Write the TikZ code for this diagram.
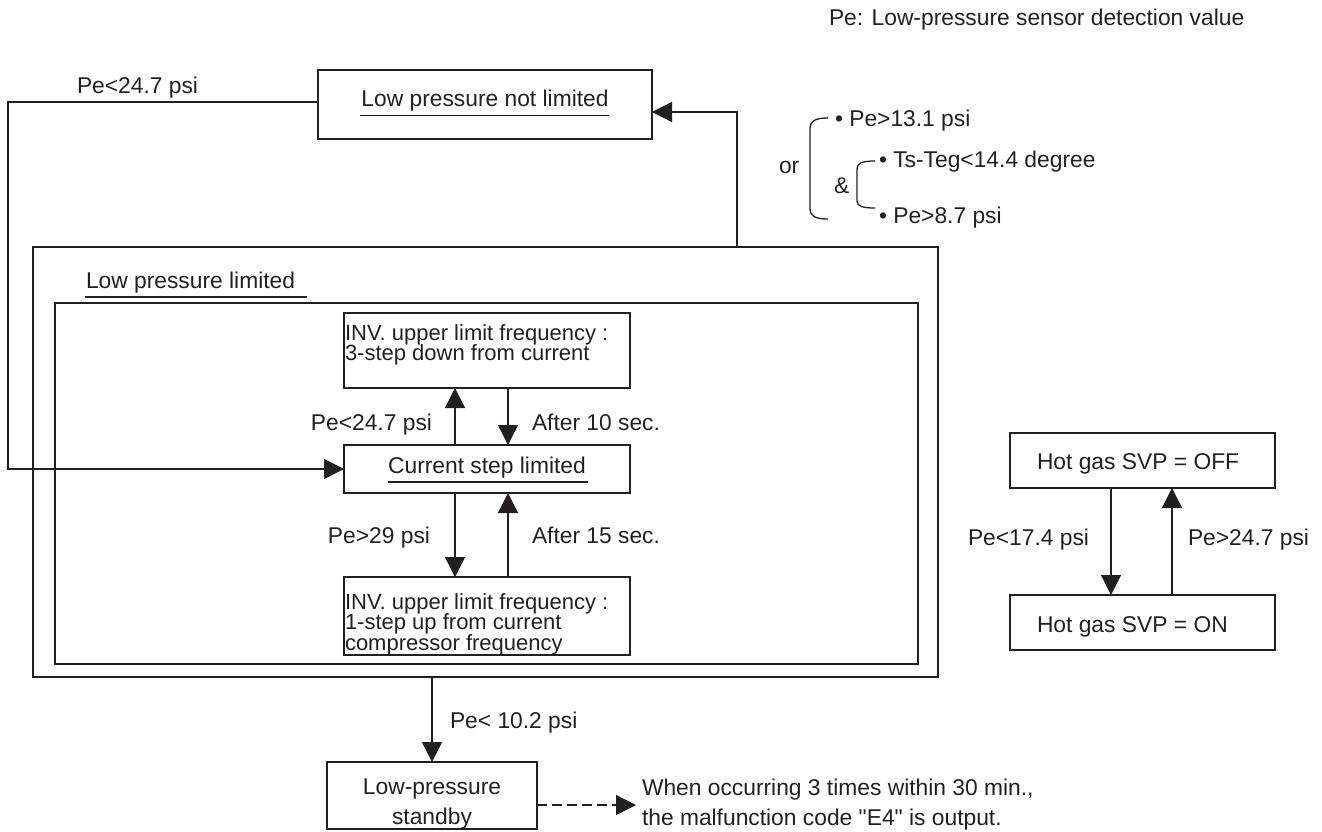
\documentclass[tikz,border=0pt]{standalone}
\usepackage{fontspec}
\setmainfont{Liberation Sans}
\usetikzlibrary{arrows.meta}
\definecolor{ink}{RGB}{35,31,32}
\newcommand\myfontA{\fontsize{22.8}{19.5}\selectfont\lineskiplimit=-50pt\relax\lineskip=0pt\relax}
\newcommand\myfontB{\fontsize{22.8}{30}\selectfont\lineskiplimit=-50pt\relax\lineskip=0pt\relax}
\newcommand\myfontC{\fontsize{22}{20.6}\selectfont\lineskiplimit=-50pt\relax\lineskip=0pt\relax}
\begin{document}
\begin{tikzpicture}[x=1pt,y=-1pt,
  box/.style={draw=ink, line width=1.4pt, inner sep=0pt, outer sep=0pt, rectangle},
  txt/.style={text=ink, inner sep=0pt, outer sep=0pt, font=\myfontA},
  wide/.style={txt, font=\myfontB},
  tight/.style={txt, font=\myfontC},
  ln/.style={draw=ink, line width=1.3pt},
  arr/.style={ln, -{Triangle[length=20pt,width=20pt]}},
  dasharr/.style={arr, dash pattern=on 10pt off 5pt}]
\useasboundingbox (0,0) rectangle (1322,831);

% note
\node[txt, anchor=base west] (note) at (829,25) {Pe: Low-pressure sensor detection value};

% boxes
\node[box, minimum width=334, minimum height=69] (nl) at (485,104.5) {};
\node[box, minimum width=905, minimum height=430] (outer) at (485.5,462) {};
\node[box, minimum width=863, minimum height=361] (inner) at (486.5,483.5) {};
\node[box, minimum width=286, minimum height=75] (b1) at (487,350.5) {};
\node[box, minimum width=286, minimum height=48] (cur) at (487,469) {};
\node[box, minimum width=286, minimum height=78] (b2) at (487,616) {};
\node[box, minimum width=210, minimum height=67] (lp) at (432,795.5) {};
\node[box, minimum width=265, minimum height=55] (off) at (1142.5,460.5) {};
\node[box, minimum width=265, minimum height=55] (on) at (1142.5,622.5) {};

% box texts
\node[txt, anchor=base] (nlt) at (485,106) {Low pressure not limited};
\draw[ln] ([shift={(-1,9.5)}]nlt.base west) -- ([shift={(0,9.5)}]nlt.base east);
\node[txt, anchor=base west] (lplim) at (86,288) {Low pressure limited};
\draw[ln] ([shift={(-1,9)}]lplim.base west) -- ([shift={(12,9)}]lplim.base east);
\node[txt, anchor=base] (curt) at (487,473) {Current step limited};
\draw[ln] ([shift={(0,9)}]curt.base west) -- ([shift={(2,9)}]curt.base east);
\node[tight, anchor=north west, align=left] (b1t) at (345,324.2) {INV. upper limit frequency :\\3-step down from current};
\node[tight, anchor=north west, align=left] (b2t) at (345,593.2) {INV. upper limit frequency :\\1-step up from current\\compressor frequency};
\node[wide, anchor=north, align=center] (lpt) at (432,778.7) {Low-pressure\\standby};
\node[txt, anchor=base west] (offt) at (1037,469) {Hot gas SVP = OFF};
\node[txt, anchor=base west] (ont) at (1037,632) {Hot gas SVP = ON};

% connectors
\coordinate (L) at (8,102);
\coordinate (T) at (737,112);
\coordinate (XA) at (455,0);
\coordinate (XB) at (508,0);
\coordinate (HA) at (1111,0);
\coordinate (HB) at (1172,0);
\coordinate (D) at (636,805);
\draw[arr] (nl.west |- L) -- (L) |- (cur.west);
\draw[arr] (outer.north -| T) -- (T) -- (nl.east |- T);
\draw[arr] (cur.north -| XA) -- (b1.south -| XA);
\draw[arr] (b1.south -| XB) -- (cur.north -| XB);
\draw[arr] (cur.south -| XA) -- (b2.north -| XA);
\draw[arr] (b2.north -| XB) -- (cur.south -| XB);
\draw[arr] (outer.south -| lp.north) -- (lp.north);
\draw[arr] (off.south -| HA) -- (on.north -| HA);
\draw[arr] (on.north -| HB) -- (off.south -| HB);
\draw[dasharr] (lp.east |- D) -- (D);

% labels
\node[txt, anchor=base west] (l1) at (77,93) {Pe<24.7 psi};
\node[txt, anchor=base east] (l2) at (432,430) {Pe<24.7 psi};
\node[txt, anchor=base west] (l3) at (532,430) {After 10 sec.};
\node[txt, anchor=base east] (l4) at (430,543) {Pe>29 psi};
\node[txt, anchor=base west] (l5) at (532,543) {After 15 sec.};
\node[txt, anchor=base west] (l6) at (450,728) {Pe< 10.2 psi};
\node[txt, anchor=base west] (l7) at (968,545) {Pe<17.4 psi};
\node[txt, anchor=base west] (l8) at (1188,545) {Pe>24.7 psi};
\node[wide, anchor=north west, align=left] (msg) at (642,778.7) {When occurring 3 times within 30 min.,\\the malfunction code \textquotedbl E4\textquotedbl{} is output.};

% condition brackets
\node[txt, anchor=base west] (or) at (779,173) {or};
\node[txt, anchor=base west] (amp) at (834,193) {\&};
\node[txt, anchor=base west] (c1) at (835,126) {\textbullet\ Pe>13.1 psi};
\node[txt, anchor=base west] (c2) at (879,167) {\textbullet\ Ts-Teg<14.4 degree};
\node[txt, anchor=base west] (c3) at (879,223) {\textbullet\ Pe>8.7 psi};
\draw[ln] (828,118) .. controls (815,118) and (810,121) .. (810,129) -- (810,208) .. controls (810,216) and (815,219) .. (828,219);
\draw[ln] (875,161) .. controls (862,161) and (857,163) .. (857,169) -- (857,201) .. controls (857,206) and (862,208) .. (875,208);
\end{tikzpicture}
\end{document}
